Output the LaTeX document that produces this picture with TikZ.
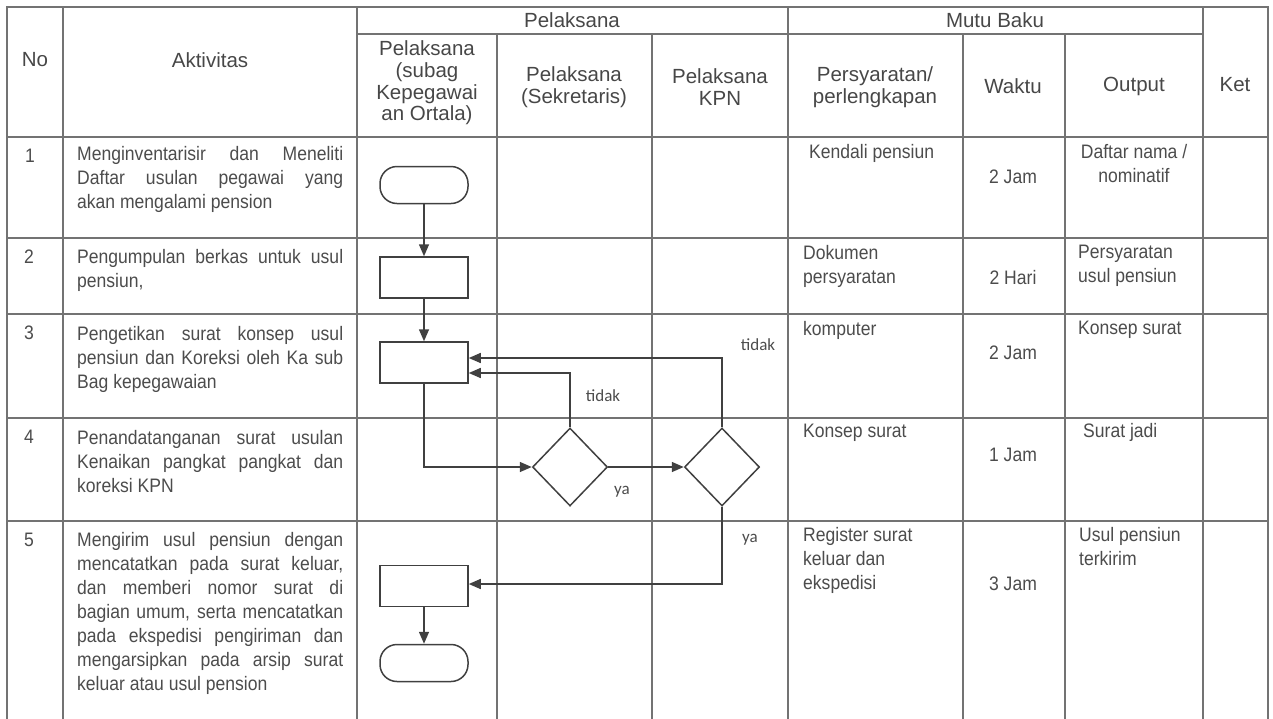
\documentclass[tikz,border=0pt]{standalone}
\usepackage{fontspec}
\setmainfont{Liberation Sans}
\newfontfamily\narrowfont[FakeStretch=0.9]{Liberation Sans}
\newfontfamily\labelfont{Carlito}
\usetikzlibrary{arrows.meta,shapes.geometric}

\begin{document}
\begin{tikzpicture}[x=1pt,y=-1pt,
    grid/.style={draw=black!55,line width=1.1pt},
    headtext/.style={text=black!72,font=\fontsize{20.5}{21.7}\selectfont,align=center,inner sep=0pt},
    celltext/.style={text=black!70,font=\narrowfont\fontsize{19.5}{24}\selectfont,inner sep=0pt},
    flow/.style={draw=black!75,line width=1.5pt},
    process/.style={flow,rectangle,minimum width=88pt,minimum height=41pt,inner sep=0pt},
    terminal/.style={flow,rectangle,rounded corners=17pt,minimum width=88pt,minimum height=37pt,inner sep=0pt},
    decision/.style={flow,diamond,minimum width=75pt,minimum height=78pt,inner sep=0pt},
    arrow/.style={flow,-{Triangle[length=12pt,width=10pt]}},
    answer/.style={text=black!70,font=\labelfont\fontsize{17}{20}\selectfont,inner sep=0pt}]
        \useasboundingbox (0,0) rectangle (1273,718);
        \draw[grid] (7,7) rectangle (1268,724);
        \draw[grid] (357,34) -- (1203,34);
        \draw[grid] (7,137) -- (1268,137);
        \draw[grid] (7,238) -- (1268,238);
        \draw[grid] (7,314) -- (1268,314);
        \draw[grid] (7,418) -- (1268,418);
        \draw[grid] (7,521) -- (1268,521);
        \draw[grid] (63,7) -- (63,724);
        \draw[grid] (357,7) -- (357,724);
        \draw[grid] (497,34) -- (497,724);
        \draw[grid] (652,34) -- (652,724);
        \draw[grid] (788,7) -- (788,724);
        \draw[grid] (963,34) -- (963,724);
        \draw[grid] (1065,34) -- (1065,724);
        \draw[grid] (1203,7) -- (1203,724);
        \node[headtext] (no) at (35,60) {No};
        \node[headtext] (aktivitas) at (210,60) {Aktivitas};
        \node[headtext] (pelaksana) at (572,20) {Pelaksana};
        \node[headtext] (mutubaku) at (995,20) {Mutu Baku};
        \node[headtext] (subag) at (427,83) {Pelaksana\\(subag\\Kepegawai\\an Ortala)};
        \node[headtext] (sekretaris) at (574,87) {Pelaksana\\(Sekretaris)};
        \node[headtext] (kpn) at (720,87) {Pelaksana\\KPN};
        \node[headtext] (syarat) at (875,87) {Persyaratan/\\perlengkapan};
        \node[headtext] (waktu) at (1013,86) {Waktu};
        \node[headtext] (output) at (1134,86) {Output};
        \node[headtext] (ket) at (1235,85) {Ket};
        \node[celltext] (no1) at (30,156) {1};
        \node[celltext] (no2) at (29,257) {2};
        \node[celltext] (no3) at (29,333) {3};
        \node[celltext] (no4) at (29,437) {4};
        \node[celltext] (no5) at (29,540) {5};
        \node[celltext,anchor=north west,text width=266pt,align=justify] (akt1) at (77,146) {Menginventarisir dan Meneliti\linebreak Daftar usulan pegawai yang\linebreak akan mengalami pension};
        \node[celltext,anchor=north west,text width=266pt,align=justify] (akt2) at (77,249) {Pengumpulan berkas untuk usul\linebreak pensiun,};
        \node[celltext,anchor=north west,text width=266pt,align=justify] (akt3) at (77,326) {Pengetikan surat konsep usul\linebreak pensiun dan Koreksi oleh Ka sub\linebreak Bag kepegawaian};
        \node[celltext,anchor=north west,text width=266pt,align=justify] (akt4) at (77,430) {Penandatanganan surat usulan\linebreak Kenaikan pangkat pangkat dan\linebreak koreksi KPN};
        \node[celltext,anchor=north west,text width=266pt,align=justify] (akt5) at (77,532) {Mengirim usul pensiun dengan\linebreak mencatatkan pada surat keluar,\linebreak dan memberi nomor surat di\linebreak bagian umum, serta mencatatkan\linebreak pada ekspedisi pengiriman dan\linebreak mengarsipkan pada arsip surat\linebreak keluar atau usul pension};
        \node[celltext,anchor=north west,align=left] (syarat1) at (809,144) {Kendali pensiun};
        \node[celltext,anchor=north west,align=left] (syarat2) at (803,245) {Dokumen\\persyaratan};
        \node[celltext,anchor=north west,align=left] (syarat3) at (803,321) {komputer};
        \node[celltext,anchor=north west,align=left] (syarat4) at (803,424) {Konsep surat};
        \node[celltext,anchor=north west,align=left] (syarat5) at (803,527) {Register surat\\keluar dan\\ekspedisi};
        \node[celltext] (waktu1) at (1013,177) {2 Jam};
        \node[celltext] (waktu2) at (1013,278) {2 Hari};
        \node[celltext] (waktu3) at (1013,353) {2 Jam};
        \node[celltext] (waktu4) at (1013,455) {1 Jam};
        \node[celltext] (waktu5) at (1013,584) {3 Jam};
        \node[celltext,anchor=north,align=center] (output1) at (1134,144) {Daftar nama /\\nominatif};
        \node[celltext,anchor=north west,align=left] (output2) at (1078,245) {Persyaratan\\usul pensiun};
        \node[celltext,anchor=north west,align=left] (output3) at (1078,321) {Konsep surat};
        \node[celltext,anchor=north west,align=left] (output4) at (1083,423) {Surat jadi};
        \node[celltext,anchor=north west,align=left] (output5) at (1079,527) {Usul pensiun\\terkirim};
        \node[terminal] (mulai) at (424,185) {};
        \node[process] (kumpul) at (424,277.5) {};
        \node[process] (ketik) at (424,362.5) {};
        \node[decision] (cekka) at (570,467) {};
        \node[decision] (cekkpn) at (722,467) {};
        \node[process] (kirim) at (424,586) {};
        \node[terminal] (selesai) at (424,663) {};
        \draw[arrow] (mulai) -- (kumpul);
        \draw[arrow] (kumpul) -- (ketik);
        \draw[arrow] (ketik.south) |- (cekka.west);
        \draw[arrow] (cekka.east) -- (cekkpn.west);
        \draw[arrow] (cekka.north) |- ([yshift=-10.5pt]ketik.east);
        \draw[arrow] (cekkpn.north) |- ([yshift=4.5pt]ketik.east);
        \draw[arrow] (cekkpn.south) |- ([yshift=2pt]kirim.east);
        \draw[arrow] (kirim) -- (selesai);
        \node[answer] (tidakkpn) at (758,345) {tidak};
        \node[answer] (tidakka) at (603,396) {tidak};
        \node[answer] (yaka) at (622,492) {ya};
        \node[answer] (yakpn) at (750,540) {ya};
    \end{tikzpicture}
\end{document}
